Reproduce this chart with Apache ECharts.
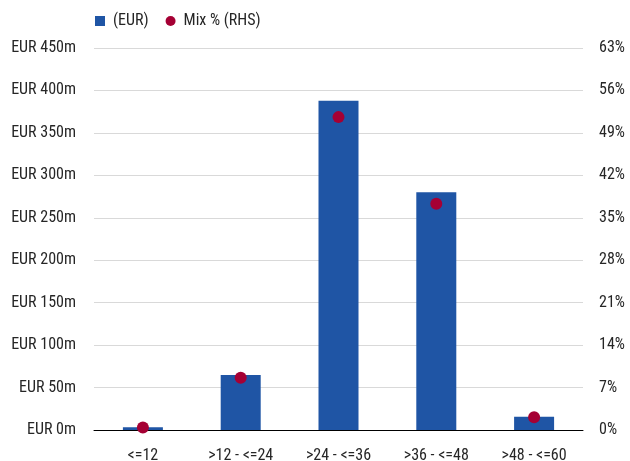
<!DOCTYPE html>
<html>
<head>
<meta charset="utf-8">
<script src="https://cdn.jsdelivr.net/npm/echarts@6/dist/echarts.min.js"></script>
<style>
  html, body { margin: 0; padding: 0; background: #fff; }
  #chart { width: 630px; height: 461px; }
</style>
</head>
<body>
<div id="chart"></div>
<script>
const categories = ['<=12', '>12 - <=24', '>24 - <=36', '>36 - <=48', '>48 - <=60']
const amountEur = [3.2, 64.8, 388, 280, 15.7]
const mixPct = [0.4, 8.6, 51.6, 37.3, 2.1]

const font = '"Roboto Condensed", Roboto, sans-serif'
const textColor = '#262626'

const chart = echarts.init(document.getElementById('chart'))
chart.setOption({
  animation: false,
  textStyle: { fontFamily: font },
  legend: {
    top: 8,
    left: 90,
    itemWidth: 10,
    itemHeight: 10,
    itemGap: 17,
    textStyle: { fontFamily: font, fontSize: 16, color: textColor, padding: [0, 0, 0, 3] },
    data: [
      { name: '(EUR)', icon: 'rect' },
      { name: 'Mix % (RHS)', icon: 'circle' }
    ]
  },
  grid: { left: 94, right: 47, top: 48, bottom: 31, outerBoundsMode: 'none' },
  xAxis: {
    type: 'category',
    data: categories,
    axisTick: { show: false },
    axisLine: { lineStyle: { color: '#000', width: 1 } },
    axisLabel: { interval: 0, fontFamily: font, fontSize: 16, color: textColor, margin: 18 }
  },
  yAxis: [
    {
      type: 'value',
      min: 0,
      max: 450,
      interval: 50,
      axisLine: { show: false },
      axisTick: { show: false },
      splitLine: { lineStyle: { color: '#d9d9d9' } },
      axisLabel: {
        fontFamily: font, fontSize: 16, color: textColor, margin: 18,
        formatter: v => 'EUR ' + v + 'm'
      }
    },
    {
      type: 'value',
      min: 0,
      max: 63,
      interval: 7,
      axisLine: { show: false },
      axisTick: { show: false },
      splitLine: { show: false },
      axisLabel: {
        fontFamily: font, fontSize: 16, color: textColor, margin: 16,
        formatter: v => v + '%'
      }
    }
  ],
  series: [
    {
      name: '(EUR)',
      type: 'bar',
      data: amountEur,
      barWidth: 40,
      itemStyle: { color: '#1f55a5' }
    },
    {
      name: 'Mix % (RHS)',
      type: 'scatter',
      yAxisIndex: 1,
      data: mixPct,
      symbol: 'circle',
      symbolSize: 12,
      itemStyle: { color: '#a50034', opacity: 1 }
    }
  ]
})
</script>
</body>
</html>
